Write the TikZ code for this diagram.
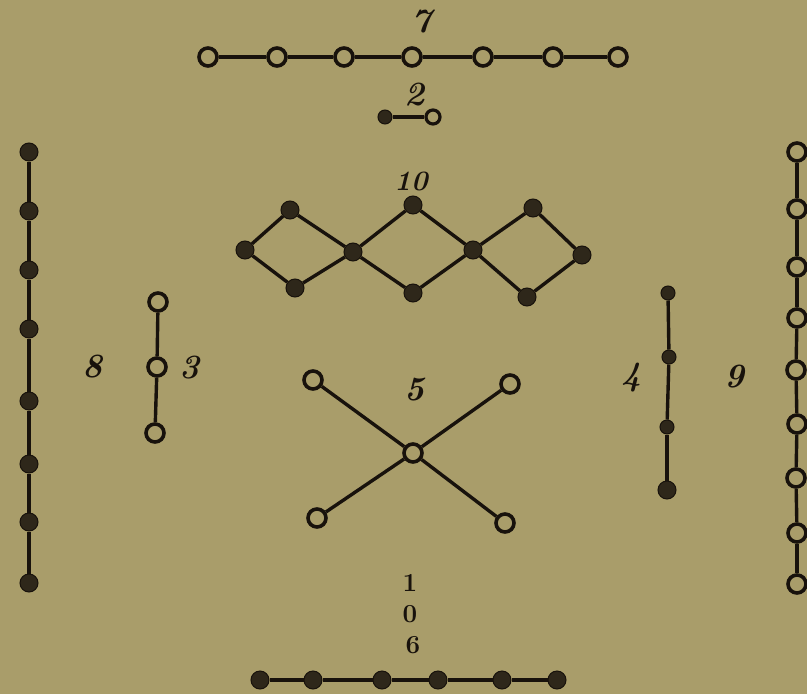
\documentclass[tikz,border=0pt]{standalone}
\usepackage{tikz}
\definecolor{paper}{RGB}{169,157,106}
\definecolor{ink}{RGB}{24,18,12}
\tikzset{
  x=1pt,y=-1pt,
  open/.style={circle,draw=ink,line width=3.6pt,fill=paper,minimum size=18pt,inner sep=0pt},
  smallopen/.style={open,minimum size=14pt,line width=3.2pt},
  dot/.style={circle,draw=ink,line width=1pt,fill=ink!85!paper,minimum size=18pt,inner sep=0pt},
  smalldot/.style={dot,minimum size=14pt},
  link/.style={draw=ink,line width=3.4pt},
  num/.style={text=ink,font=\fontsize{34}{34}\selectfont\bfseries\itshape},
  smallnum/.style={text=ink,font=\fontsize{26}{26}\selectfont\bfseries}
}
\begin{document}
\begin{tikzpicture}
\fill[paper] (0,0) rectangle (807,694);
\useasboundingbox (0,0) rectangle (807,694);
% 7 (top)
\node[num] (l7) at (422,22) {7};
\foreach \i/\x in {1/208,2/277,3/344,4/412,5/483,6/553,7/618}
  \node[open] (s\i) at (\x,57) {};
\foreach \a/\b in {1/2,2/3,3/4,4/5,5/6,6/7} \draw[link] (s\a) -- (s\b);
% 2
\node[num] (l2) at (415,95) {2};
\node[smalldot] (t1) at (385,117) {};
\node[smallopen] (t2) at (433,117) {};
\draw[link] (t1) -- (t2);
% 10
\node[num,font=\fontsize{28}{28}\selectfont\bfseries\itshape] (l10) at (411,181) {10};
\node[dot] (d1) at (290,210) {};
\node[dot] (d2) at (245,250) {};
\node[dot] (d3) at (295,288) {};
\node[dot] (d4) at (353,252) {};
\node[dot] (d5) at (413,205) {};
\node[dot] (d6) at (413,293) {};
\node[dot] (d7) at (473,250) {};
\node[dot] (d8) at (533,208) {};
\node[dot] (d9) at (582,255) {};
\node[dot] (d10) at (527,297) {};
\foreach \a/\b in {2/1,1/4,2/3,3/4,4/5,4/6,5/7,6/7,7/8,7/10,8/9,10/9} \draw[link] (d\a) -- (d\b);
% 8 (left column)
\node[num] (l8) at (93,367) {8};
\foreach \i/\y in {1/152,2/211,3/270,4/329,5/401,6/464,7/522,8/583}
  \node[dot] (e\i) at (29,\y) {};
\foreach \a/\b in {1/2,2/3,3/4,4/5,5/6,6/7,7/8} \draw[link] (e\a) -- (e\b);
% 3
\node[num] (l3) at (190,368) {3};
\node[open] (h1) at (158,302) {};
\node[open] (h2) at (157,367) {};
\node[open] (h3) at (155,433) {};
\draw[link] (h1) -- (h2); \draw[link] (h2) -- (h3);
% 5
\node[num] (l5) at (415,390) {5};
\node[open] (f0) at (413,453) {};
\node[open] (f1) at (313,380) {};
\node[open] (f2) at (510,384) {};
\node[open] (f3) at (317,518) {};
\node[open] (f4) at (505,523) {};
\foreach \i in {1,2,3,4} \draw[link] (f0) -- (f\i);
% 4
\node[num] (l4) at (632,378) {4};
\node[smalldot] (g1) at (668,293) {};
\node[smalldot] (g2) at (669,357) {};
\node[smalldot] (g3) at (667,427) {};
\node[dot] (g4) at (667,490) {};
\foreach \a/\b in {1/2,2/3,3/4} \draw[link] (g\a) -- (g\b);
% 9 (right column)
\node[num] (l9) at (735,377) {9};
\foreach \i/\x/\y in {1/797/152,2/797/209,3/797/267,4/797/318,5/796/370,6/797/424,7/796/478,8/797/533,9/797/584}
  \node[open] (n\i) at (\x,\y) {};
\foreach \a/\b in {1/2,2/3,3/4,4/5,5/6,6/7,7/8,8/9} \draw[link] (n\a) -- (n\b);
% 1 0 6 (bottom)
\node[smallnum] (l1) at (410,583) {1};
\node[smallnum] (l0) at (410,614) {0};
\node[smallnum] (l6) at (413,645) {6};
\foreach \i/\x in {1/260,2/313,3/382,4/438,5/502,6/557}
  \node[dot] (b\i) at (\x,680) {};
\foreach \a/\b in {1/2,2/3,3/4,4/5,5/6} \draw[link] (b\a) -- (b\b);
\end{tikzpicture}
\end{document}
